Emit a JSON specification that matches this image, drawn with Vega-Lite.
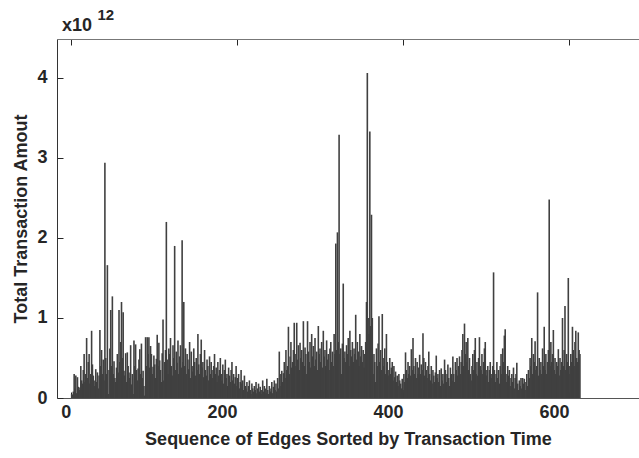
{
  "$schema": "https://vega.github.io/schema/vega-lite/v6.json",
  "width": 582,
  "height": 359,
  "autosize": {"type": "none"},
  "padding": {"left": 57, "top": 39, "right": 0, "bottom": 60},
  "background": "white",
  "config": {
    "view": {"stroke": null},
    "font": "Liberation Sans",
    "axis": {"grid": false, "labelFont": "Liberation Sans", "titleFont": "Liberation Sans"}
  },
  "resolve": {"axis": {"x": "independent", "y": "independent"}},
  "datasets": {
    "bars": [
{"i":1,"v":0.05},{"i":2,"v":0.04},{"i":3,"v":0.08},{"i":4,"v":0.30},{"i":5,"v":0.12},{"i":6,"v":0.28},{"i":7,"v":0.06},{"i":8,"v":0.26},{"i":9,"v":0.14},{"i":10,"v":0.10},
{"i":11,"v":0.13},{"i":12,"v":0.40},{"i":13,"v":0.22},{"i":14,"v":0.18},{"i":15,"v":0.35},{"i":16,"v":0.55},{"i":17,"v":0.20},{"i":18,"v":0.30},{"i":19,"v":0.75},{"i":20,"v":0.25},
{"i":21,"v":0.45},{"i":22,"v":0.55},{"i":23,"v":0.18},{"i":24,"v":0.30},{"i":25,"v":0.84},{"i":26,"v":0.42},{"i":27,"v":0.28},{"i":28,"v":0.15},{"i":29,"v":0.22},{"i":30,"v":0.36},
{"i":31,"v":0.20},{"i":32,"v":0.32},{"i":33,"v":0.12},{"i":34,"v":0.28},{"i":35,"v":0.85},{"i":36,"v":0.40},{"i":37,"v":0.60},{"i":38,"v":0.30},{"i":39,"v":0.48},{"i":40,"v":0.22},
{"i":41,"v":2.94},{"i":42,"v":0.50},{"i":43,"v":0.30},{"i":44,"v":1.66},{"i":45,"v":0.05},{"i":46,"v":0.35},{"i":47,"v":0.62},{"i":48,"v":1.10},{"i":49,"v":0.40},{"i":50,"v":1.27},
{"i":51,"v":0.30},{"i":52,"v":0.46},{"i":53,"v":0.25},{"i":54,"v":0.20},{"i":55,"v":0.38},{"i":56,"v":0.55},{"i":57,"v":0.32},{"i":58,"v":1.10},{"i":59,"v":0.45},{"i":60,"v":0.70},
{"i":61,"v":1.20},{"i":62,"v":0.50},{"i":63,"v":1.07},{"i":64,"v":0.34},{"i":65,"v":0.28},{"i":66,"v":0.56},{"i":67,"v":0.20},{"i":68,"v":0.57},{"i":69,"v":0.40},{"i":70,"v":0.32},
{"i":71,"v":0.25},{"i":72,"v":0.66},{"i":73,"v":0.17},{"i":74,"v":0.30},{"i":75,"v":0.05},{"i":76,"v":0.72},{"i":77,"v":0.40},{"i":78,"v":0.67},{"i":79,"v":0.35},{"i":80,"v":0.22},
{"i":81,"v":0.37},{"i":82,"v":0.48},{"i":83,"v":0.61},{"i":84,"v":0.30},{"i":85,"v":0.68},{"i":86,"v":0.25},{"i":87,"v":0.34},{"i":88,"v":0.15},{"i":89,"v":0.03},{"i":90,"v":0.76},
{"i":91,"v":0.40},{"i":92,"v":0.76},{"i":93,"v":0.55},{"i":94,"v":0.76},{"i":95,"v":0.38},{"i":96,"v":0.65},{"i":97,"v":0.55},{"i":98,"v":0.30},{"i":99,"v":0.39},{"i":100,"v":0.53},
{"i":101,"v":0.42},{"i":102,"v":0.25},{"i":103,"v":0.49},{"i":104,"v":0.79},{"i":105,"v":0.40},{"i":106,"v":0.69},{"i":107,"v":0.47},{"i":108,"v":0.35},{"i":109,"v":0.20},{"i":110,"v":0.56},
{"i":111,"v":0.98},{"i":112,"v":0.22},{"i":113,"v":0.45},{"i":114,"v":0.60},{"i":115,"v":2.20},{"i":116,"v":0.48},{"i":117,"v":0.30},{"i":118,"v":0.62},{"i":119,"v":0.55},{"i":120,"v":0.75},
{"i":121,"v":0.40},{"i":122,"v":0.28},{"i":123,"v":0.66},{"i":124,"v":0.50},{"i":125,"v":1.90},{"i":126,"v":0.35},{"i":127,"v":0.58},{"i":128,"v":0.44},{"i":129,"v":0.72},{"i":130,"v":0.30},
{"i":131,"v":0.52},{"i":132,"v":0.66},{"i":133,"v":0.38},{"i":134,"v":1.97},{"i":135,"v":0.45},{"i":136,"v":1.20},{"i":137,"v":0.40},{"i":138,"v":0.62},{"i":139,"v":0.30},{"i":140,"v":0.55},
{"i":141,"v":0.48},{"i":142,"v":0.36},{"i":143,"v":0.70},{"i":144,"v":0.25},{"i":145,"v":0.58},{"i":146,"v":0.40},{"i":147,"v":0.33},{"i":148,"v":0.62},{"i":149,"v":0.45},{"i":150,"v":0.28},
{"i":151,"v":0.50},{"i":152,"v":0.35},{"i":153,"v":0.80},{"i":154,"v":0.42},{"i":155,"v":0.30},{"i":156,"v":0.55},{"i":157,"v":0.73},{"i":158,"v":0.38},{"i":159,"v":0.45},{"i":160,"v":0.26},
{"i":161,"v":0.60},{"i":162,"v":0.35},{"i":163,"v":0.28},{"i":164,"v":0.48},{"i":165,"v":0.40},{"i":166,"v":0.22},{"i":167,"v":0.52},{"i":168,"v":0.30},{"i":169,"v":0.45},{"i":170,"v":0.35},
{"i":171,"v":0.25},{"i":172,"v":0.40},{"i":173,"v":0.55},{"i":174,"v":0.30},{"i":175,"v":0.38},{"i":176,"v":0.20},{"i":177,"v":0.45},{"i":178,"v":0.28},{"i":179,"v":0.35},{"i":180,"v":0.50},
{"i":181,"v":0.30},{"i":182,"v":0.22},{"i":183,"v":0.42},{"i":184,"v":0.18},{"i":185,"v":0.35},{"i":186,"v":0.48},{"i":187,"v":0.25},{"i":188,"v":0.30},{"i":189,"v":0.15},{"i":190,"v":0.38},
{"i":191,"v":0.28},{"i":192,"v":0.20},{"i":193,"v":0.35},{"i":194,"v":0.45},{"i":195,"v":0.22},{"i":196,"v":0.30},{"i":197,"v":0.18},{"i":198,"v":0.26},{"i":199,"v":0.40},{"i":200,"v":0.15},
{"i":201,"v":0.25},{"i":202,"v":0.30},{"i":203,"v":0.12},{"i":204,"v":0.20},{"i":205,"v":0.35},{"i":206,"v":0.18},{"i":207,"v":0.22},{"i":208,"v":0.10},{"i":209,"v":0.28},{"i":210,"v":0.15},
{"i":211,"v":0.12},{"i":212,"v":0.20},{"i":213,"v":0.08},{"i":214,"v":0.15},{"i":215,"v":0.22},{"i":216,"v":0.10},{"i":217,"v":0.05},{"i":218,"v":0.18},{"i":219,"v":0.12},{"i":220,"v":0.08},
{"i":221,"v":0.15},{"i":222,"v":0.10},{"i":223,"v":0.20},{"i":224,"v":0.06},{"i":225,"v":0.12},{"i":226,"v":0.18},{"i":227,"v":0.08},{"i":228,"v":0.14},{"i":229,"v":0.05},{"i":230,"v":0.10},
{"i":231,"v":0.22},{"i":232,"v":0.08},{"i":233,"v":0.15},{"i":234,"v":0.12},{"i":235,"v":0.06},{"i":236,"v":0.24},{"i":237,"v":0.10},{"i":238,"v":0.05},{"i":239,"v":0.15},{"i":240,"v":0.08},
{"i":241,"v":0.12},{"i":242,"v":0.20},{"i":243,"v":0.06},{"i":244,"v":0.14},{"i":245,"v":0.22},{"i":246,"v":0.10},{"i":247,"v":0.18},{"i":248,"v":0.08},{"i":249,"v":0.25},{"i":250,"v":0.12},
{"i":251,"v":0.58},{"i":252,"v":0.30},{"i":253,"v":0.15},{"i":254,"v":0.34},{"i":255,"v":0.20},{"i":256,"v":0.31},{"i":257,"v":0.45},{"i":258,"v":0.25},{"i":259,"v":0.60},{"i":260,"v":0.35},
{"i":261,"v":0.40},{"i":262,"v":0.89},{"i":263,"v":0.30},{"i":264,"v":0.52},{"i":265,"v":0.70},{"i":266,"v":0.38},{"i":267,"v":0.45},{"i":268,"v":0.60},{"i":269,"v":0.94},{"i":270,"v":0.40},
{"i":271,"v":0.55},{"i":272,"v":0.94},{"i":273,"v":0.48},{"i":274,"v":0.66},{"i":275,"v":0.35},{"i":276,"v":0.69},{"i":277,"v":0.50},{"i":278,"v":0.60},{"i":279,"v":0.45},{"i":280,"v":0.96},
{"i":281,"v":0.40},{"i":282,"v":0.63},{"i":283,"v":0.55},{"i":284,"v":0.30},{"i":285,"v":0.96},{"i":286,"v":0.58},{"i":287,"v":0.45},{"i":288,"v":0.70},{"i":289,"v":0.38},{"i":290,"v":0.80},
{"i":291,"v":0.52},{"i":292,"v":0.65},{"i":293,"v":0.40},{"i":294,"v":0.75},{"i":295,"v":0.48},{"i":296,"v":0.58},{"i":297,"v":0.35},{"i":298,"v":0.90},{"i":299,"v":0.55},{"i":300,"v":0.62},
{"i":301,"v":0.45},{"i":302,"v":0.70},{"i":303,"v":0.38},{"i":304,"v":0.84},{"i":305,"v":0.52},{"i":306,"v":0.60},{"i":307,"v":0.40},{"i":308,"v":0.72},{"i":309,"v":0.48},{"i":310,"v":0.55},
{"i":311,"v":0.35},{"i":312,"v":0.62},{"i":313,"v":0.70},{"i":314,"v":0.45},{"i":315,"v":0.58},{"i":316,"v":0.40},{"i":317,"v":0.80},{"i":318,"v":0.55},{"i":319,"v":1.93},{"i":320,"v":0.60},
{"i":321,"v":2.07},{"i":322,"v":0.70},{"i":323,"v":3.29},{"i":324,"v":0.55},{"i":325,"v":0.62},{"i":326,"v":0.30},{"i":327,"v":0.68},{"i":328,"v":1.43},{"i":329,"v":0.50},{"i":330,"v":0.58},
{"i":331,"v":0.45},{"i":332,"v":0.66},{"i":333,"v":0.55},{"i":334,"v":0.75},{"i":335,"v":0.40},{"i":336,"v":0.84},{"i":337,"v":0.60},{"i":338,"v":0.52},{"i":339,"v":0.70},{"i":340,"v":0.45},
{"i":341,"v":0.62},{"i":342,"v":0.55},{"i":343,"v":1.04},{"i":344,"v":0.48},{"i":345,"v":0.70},{"i":346,"v":0.58},{"i":347,"v":0.40},{"i":348,"v":0.80},{"i":349,"v":0.52},{"i":350,"v":0.65},
{"i":351,"v":0.45},{"i":352,"v":0.60},{"i":353,"v":0.38},{"i":354,"v":0.55},{"i":355,"v":0.70},{"i":356,"v":1.20},{"i":357,"v":4.06},{"i":358,"v":1.00},{"i":359,"v":0.80},{"i":360,"v":3.33},
{"i":361,"v":0.90},{"i":362,"v":2.29},{"i":363,"v":1.00},{"i":364,"v":0.30},{"i":365,"v":0.55},{"i":366,"v":0.45},{"i":367,"v":0.20},{"i":368,"v":0.62},{"i":369,"v":0.40},{"i":370,"v":0.68},
{"i":371,"v":1.02},{"i":372,"v":0.45},{"i":373,"v":0.60},{"i":374,"v":0.35},{"i":375,"v":1.05},{"i":376,"v":0.50},{"i":377,"v":0.40},{"i":378,"v":0.62},{"i":379,"v":0.30},{"i":380,"v":0.80},
{"i":381,"v":0.45},{"i":382,"v":0.35},{"i":383,"v":0.28},{"i":384,"v":0.50},{"i":385,"v":0.30},{"i":386,"v":0.38},{"i":387,"v":0.45},{"i":388,"v":0.22},{"i":389,"v":0.40},{"i":390,"v":0.26},
{"i":391,"v":0.33},{"i":392,"v":0.20},{"i":393,"v":0.28},{"i":394,"v":0.15},{"i":395,"v":0.30},{"i":396,"v":0.22},{"i":397,"v":0.18},{"i":398,"v":0.12},{"i":399,"v":0.24},{"i":400,"v":0.10},
{"i":401,"v":0.30},{"i":402,"v":0.20},{"i":403,"v":0.57},{"i":404,"v":0.35},{"i":405,"v":0.25},{"i":406,"v":0.45},{"i":407,"v":0.30},{"i":408,"v":0.40},{"i":409,"v":0.28},{"i":410,"v":0.61},
{"i":411,"v":0.35},{"i":412,"v":0.75},{"i":413,"v":0.40},{"i":414,"v":0.30},{"i":415,"v":0.50},{"i":416,"v":0.25},{"i":417,"v":0.45},{"i":418,"v":0.30},{"i":419,"v":0.38},{"i":420,"v":0.54},
{"i":421,"v":0.30},{"i":422,"v":0.42},{"i":423,"v":0.35},{"i":424,"v":0.81},{"i":425,"v":0.50},{"i":426,"v":0.28},{"i":427,"v":0.45},{"i":428,"v":0.35},{"i":429,"v":0.25},{"i":430,"v":0.40},
{"i":431,"v":0.58},{"i":432,"v":0.30},{"i":433,"v":0.22},{"i":434,"v":0.40},{"i":435,"v":0.18},{"i":436,"v":0.35},{"i":437,"v":0.28},{"i":438,"v":0.20},{"i":439,"v":0.32},{"i":440,"v":0.53},
{"i":441,"v":0.25},{"i":442,"v":0.30},{"i":443,"v":0.20},{"i":444,"v":0.35},{"i":445,"v":0.15},{"i":446,"v":0.37},{"i":447,"v":0.22},{"i":448,"v":0.30},{"i":449,"v":0.18},{"i":450,"v":0.48},
{"i":451,"v":0.35},{"i":452,"v":0.20},{"i":453,"v":0.30},{"i":454,"v":0.42},{"i":455,"v":0.25},{"i":456,"v":0.15},{"i":457,"v":0.38},{"i":458,"v":0.30},{"i":459,"v":0.22},{"i":460,"v":0.52},
{"i":461,"v":0.30},{"i":462,"v":0.20},{"i":463,"v":0.45},{"i":464,"v":0.35},{"i":465,"v":0.50},{"i":466,"v":0.28},{"i":467,"v":0.40},{"i":468,"v":0.52},{"i":469,"v":0.30},{"i":470,"v":0.45},
{"i":471,"v":0.60},{"i":472,"v":0.80},{"i":473,"v":0.40},{"i":474,"v":0.93},{"i":475,"v":0.55},{"i":476,"v":0.70},{"i":477,"v":0.45},{"i":478,"v":0.75},{"i":479,"v":0.35},{"i":480,"v":0.50},
{"i":481,"v":0.30},{"i":482,"v":0.22},{"i":483,"v":0.40},{"i":484,"v":0.55},{"i":485,"v":0.35},{"i":486,"v":0.60},{"i":487,"v":0.75},{"i":488,"v":0.30},{"i":489,"v":0.45},{"i":490,"v":0.28},
{"i":491,"v":0.50},{"i":492,"v":0.76},{"i":493,"v":0.40},{"i":494,"v":0.35},{"i":495,"v":0.55},{"i":496,"v":0.30},{"i":497,"v":0.45},{"i":498,"v":0.62},{"i":499,"v":0.70},{"i":500,"v":0.35},
{"i":501,"v":0.28},{"i":502,"v":0.40},{"i":503,"v":0.20},{"i":504,"v":0.35},{"i":505,"v":0.45},{"i":506,"v":0.25},{"i":507,"v":0.30},{"i":508,"v":0.40},{"i":509,"v":1.57},{"i":510,"v":0.35},
{"i":511,"v":0.20},{"i":512,"v":0.30},{"i":513,"v":0.45},{"i":514,"v":0.25},{"i":515,"v":0.35},{"i":516,"v":0.18},{"i":517,"v":0.40},{"i":518,"v":0.55},{"i":519,"v":0.30},{"i":520,"v":0.62},
{"i":521,"v":0.45},{"i":522,"v":0.78},{"i":523,"v":0.86},{"i":524,"v":0.30},{"i":525,"v":0.20},{"i":526,"v":0.40},{"i":527,"v":0.28},{"i":528,"v":0.35},{"i":529,"v":0.15},{"i":530,"v":0.25},
{"i":531,"v":0.30},{"i":532,"v":0.20},{"i":533,"v":0.38},{"i":534,"v":0.12},{"i":535,"v":0.25},{"i":536,"v":0.30},{"i":537,"v":0.44},{"i":538,"v":0.18},{"i":539,"v":0.10},{"i":540,"v":0.22},
{"i":541,"v":0.15},{"i":542,"v":0.25},{"i":543,"v":0.12},{"i":544,"v":0.25},{"i":545,"v":0.18},{"i":546,"v":0.24},{"i":547,"v":0.10},{"i":548,"v":0.20},{"i":549,"v":0.30},{"i":550,"v":0.15},
{"i":551,"v":0.35},{"i":552,"v":0.25},{"i":553,"v":0.50},{"i":554,"v":0.40},{"i":555,"v":0.75},{"i":556,"v":0.30},{"i":557,"v":0.55},{"i":558,"v":0.45},{"i":559,"v":0.71},{"i":560,"v":0.35},
{"i":561,"v":0.40},{"i":562,"v":1.32},{"i":563,"v":0.28},{"i":564,"v":0.50},{"i":565,"v":0.35},{"i":566,"v":0.45},{"i":567,"v":0.30},{"i":568,"v":0.62},{"i":569,"v":0.40},{"i":570,"v":0.89},
{"i":571,"v":0.35},{"i":572,"v":0.55},{"i":573,"v":0.30},{"i":574,"v":0.45},{"i":575,"v":0.60},{"i":576,"v":2.48},{"i":577,"v":0.40},{"i":578,"v":0.70},{"i":579,"v":0.45},{"i":580,"v":0.55},
{"i":581,"v":0.85},{"i":582,"v":0.35},{"i":583,"v":0.50},{"i":584,"v":0.30},{"i":585,"v":0.45},{"i":586,"v":0.40},{"i":587,"v":0.61},{"i":588,"v":0.28},{"i":589,"v":0.50},{"i":590,"v":0.35},
{"i":591,"v":0.45},{"i":592,"v":1.00},{"i":593,"v":0.40},{"i":594,"v":0.60},{"i":595,"v":1.15},{"i":596,"v":0.35},{"i":597,"v":0.55},{"i":598,"v":0.45},{"i":599,"v":1.50},{"i":600,"v":0.40},
{"i":601,"v":0.30},{"i":602,"v":0.55},{"i":603,"v":0.45},{"i":604,"v":0.89},{"i":605,"v":0.60},{"i":606,"v":0.40},{"i":607,"v":0.70},{"i":608,"v":0.84},{"i":609,"v":0.50},{"i":610,"v":0.45},
{"i":611,"v":0.82},{"i":612,"v":0.60},{"i":613,"v":0.55}
    ],
    "exp": [{"t": "x10"}],
    "pow": [{"t": "12"}]
  },
  "layer": [
    {
      "data": {"name": "bars"},
      "mark": {"type": "bar", "width": 1.6, "color": "#404040"},
      "encoding": {
        "x": {
          "field": "i", "type": "quantitative",
          "scale": {"domain": [-10.65, 678.1], "nice": false, "zero": false},
          "axis": {
            "orient": "bottom", "values": [0, 200, 400, 600], "format": "d",
            "title": "Sequence of Edges Sorted by Transaction Time",
            "labelFontSize": 18, "labelFontWeight": "bold", "labelColor": "#262626",
            "labelAlign": "right", "labelDx": 2, "labelPadding": 11, "labelFlush": false, "labelOverlap": false,
            "tickSize": -6, "tickColor": "#262626", "domainColor": "#555555",
            "titleFontSize": 18, "titleFontWeight": "bold", "titleColor": "#262626", "titlePadding": 9
          }
        },
        "y": {
          "field": "v", "type": "quantitative",
          "scale": {"domain": [0, 4.486], "nice": false},
          "axis": {
            "values": [0, 1, 2, 3, 4], "format": "d",
            "title": "Total Transaction Amout",
            "labelFontSize": 18, "labelFontWeight": "bold", "labelColor": "#262626",
            "labelAlign": "right", "labelPadding": 16, "labelDy": 2,
            "tickSize": -6, "tickColor": "#262626", "domainColor": "#333333",
            "titleFontSize": 18, "titleFontWeight": "bold", "titleColor": "#262626", "titlePadding": 6
          }
        }
      }
    },
    {
      "data": {"name": "bars"},
      "mark": {"type": "rule", "opacity": 0},
      "encoding": {
        "x": {
          "field": "i", "type": "quantitative",
          "axis": {
            "orient": "top", "values": [0, 200, 400, 600], "labels": false, "title": null,
            "tickSize": -6, "tickColor": "#262626", "domainColor": "#777777"
          }
        }
      }
    },
    {
      "mark": {"type": "rule", "color": "#000000", "strokeWidth": 1.5},
      "encoding": {"y": {"datum": 0, "axis": null}}
    },
    {
      "data": {"name": "exp"},
      "mark": {"type": "text", "fontSize": 18, "fontWeight": "bold", "align": "left", "baseline": "alphabetic", "color": "#262626"},
      "encoding": {
        "text": {"field": "t"},
        "x": {"datum": -10.65, "axis": null},
        "y": {"datum": 4.58, "axis": null}
      }
    },
    {
      "data": {"name": "pow"},
      "mark": {"type": "text", "fontSize": 15, "fontWeight": "bold", "align": "left", "baseline": "alphabetic", "color": "#262626"},
      "encoding": {
        "text": {"field": "t"},
        "x": {"datum": 32, "axis": null},
        "y": {"datum": 4.72, "axis": null}
      }
    }
  ]
}
